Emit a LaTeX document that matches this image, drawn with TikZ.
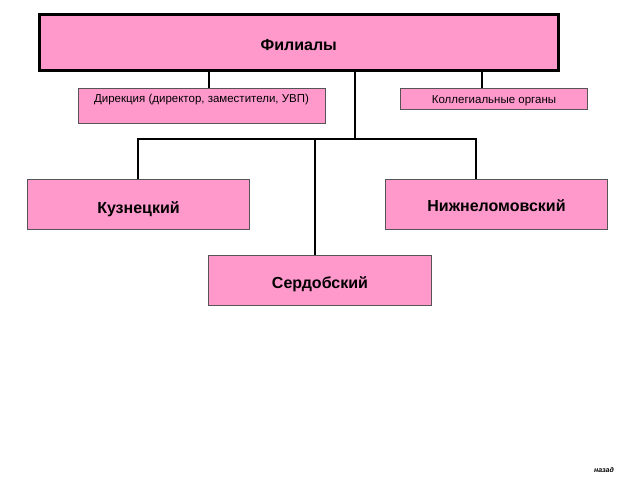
\documentclass[tikz,border=0pt]{standalone}
\usepackage{fontspec}
\setmainfont{Liberation Sans}
\definecolor{boxpink}{HTML}{FF99CC}
\definecolor{edge}{HTML}{555555}
\begin{document}
\begin{tikzpicture}[x=1pt,y=-1pt,
  pbox/.style={draw=edge,fill=boxpink,line width=1pt,inner sep=0pt,anchor=north west},
  big/.style={font=\bfseries\fontsize{16}{19}\selectfont,text height=15.5pt,text depth=0pt},
  small/.style={font=\fontsize{11.5}{14}\selectfont,text height=9pt,text depth=0pt},
  conn/.style={draw=black,line width=1.6pt}]
\useasboundingbox (0,0) rectangle (640,480);
% boxes
\node[pbox,draw=black,line width=2.5pt,minimum width=519pt,minimum height=56pt,big] (fil) at (38,13) {Филиалы};
\node[pbox,minimum width=247pt,minimum height=35pt] (dir) at (78,88) {};
\node[font=\fontsize{11.5}{14}\selectfont,anchor=north] (dirt) at (201.5,91) {Дирекция (директор, заместители, УВП)};
\node[pbox,minimum width=187pt,minimum height=21pt,small] (kol) at (400,88) {Коллегиальные органы};
\node[pbox,minimum width=222pt,minimum height=50pt,big,text height=17.5pt] (kuz) at (27,179) {Кузнецкий};
\node[pbox,minimum width=222pt,minimum height=50pt,big,text height=14pt] (niz) at (385,179) {Нижнеломовский};
\node[pbox,minimum width=223pt,minimum height=50pt,big] (ser) at (208,255) {Сердобский};
\node[font=\bfseries\itshape\fontsize{7}{8}\selectfont] (back) at (604,470) {назад};
% connector points
\coordinate (d1) at (209,69);
\coordinate (d2) at (209,88);
\coordinate (k1) at (482,69);
\coordinate (k2) at (482,88);
\coordinate (c1) at (355,69);
\coordinate (hub) at (355,139);
\coordinate (hl) at (138,139);
\coordinate (hr) at (476,139);
\coordinate (hs) at (315,139);
% connectors
\draw[conn] (d1) -- (d2);
\draw[conn] (k1) -- (k2);
\draw[conn] (c1) -- (hub);
\draw[conn] (kuz.north -| hl) -- (hl) -- (hr) -- (niz.north -| hr);
\draw[conn] (hs) -- (ser.north -| hs);
\end{tikzpicture}
\end{document}
